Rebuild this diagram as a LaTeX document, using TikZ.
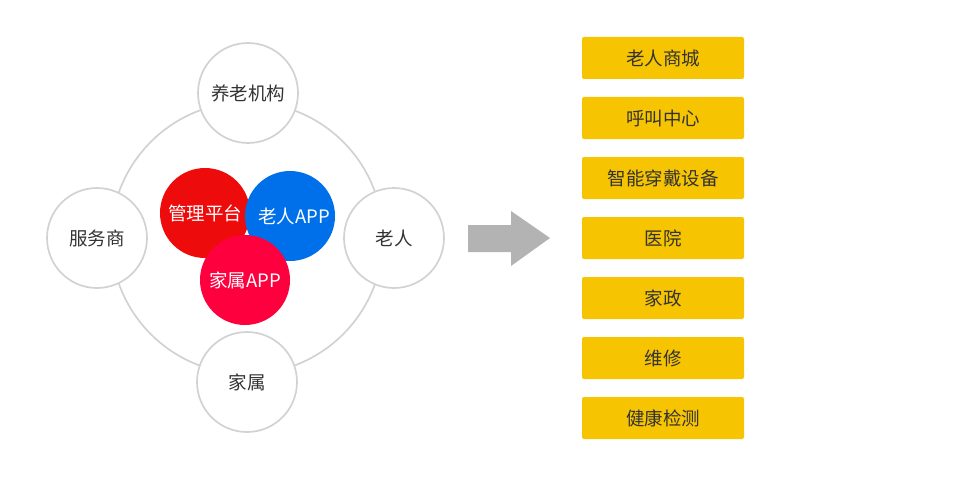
\documentclass[tikz,border=0pt]{standalone}
\usepackage{fontspec}
\setmainfont{Noto Sans CJK SC}
\definecolor{ringgray}{HTML}{D2D2D2}
\definecolor{txt}{HTML}{333333}
\definecolor{mred}{HTML}{EE0B0B}
\definecolor{mblue}{HTML}{0070EA}
\definecolor{mpink}{HTML}{FF003F}
\definecolor{boxy}{HTML}{F7C402}
\definecolor{arrowgray}{HTML}{B3B3B3}
\begin{document}
\begin{tikzpicture}[x=1pt,y=-1pt,
  actor/.style={circle,draw=ringgray,line width=1.7pt,fill=white,minimum size=100pt,inner sep=0pt,font=\fontsize{18.5}{20}\selectfont,text=txt},
  core/.style={circle,minimum size=90pt,inner sep=0pt,font=\fontsize{18.5}{20}\selectfont,text=white},
  svc/.style={rectangle,rounded corners=2pt,fill=boxy,minimum width=162pt,minimum height=42pt,inner sep=0pt,font=\fontsize{18.5}{20}\selectfont,text=txt}]
\useasboundingbox (0,0) rectangle (960,500);
\draw[ringgray,line width=1.7pt] (247,238) circle (136);
\node[actor] (yl) at (248,93) {养老机构};
\node[actor] (fws) at (97,238) {\raisebox{-2pt}{服务商}\hspace{6pt}};
\node[actor] (lr) at (394,238) {老人};
\node[actor] (js) at (247,382) {\raisebox{-2pt}{家属}};
\node[core,fill=mred] (gl) at (205,213) {管理平台};
\node[core,fill=mblue] (lapp) at (290,216) {\hspace{8pt}老人APP};
\node[core,fill=mpink] (japp) at (245,280) {家属APP};
\fill[arrowgray] (468,225) -- (511,225) -- (511,211) -- (550,238) -- (511,266) -- (511,252) -- (468,252) -- cycle;
\node[svc] (s1) at (663,58) {老人商城};
\node[svc] (s2) at (663,118) {呼叫中心};
\node[svc] (s3) at (663,178) {智能穿戴设备};
\node[svc] (s4) at (663,238) {医院};
\node[svc] (s5) at (663,298) {家政};
\node[svc] (s6) at (663,358) {维修};
\node[svc] (s7) at (663,418) {健康检测};
\end{tikzpicture}
\end{document}
